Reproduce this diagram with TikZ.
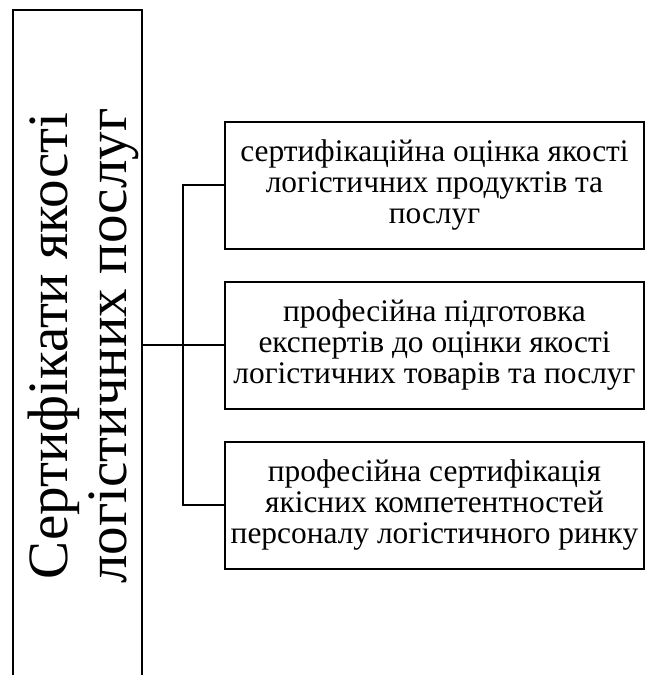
\documentclass[tikz,border=0pt]{standalone}
\usepackage{fontspec}
\setmainfont{Liberation Serif}
\begin{document}
\begin{tikzpicture}[x=1pt,y=-1pt,
  frame/.style={draw=black,line width=2pt},
  rbox/.style={frame,minimum width=419pt,minimum height=127pt,align=center,
    font=\fontsize{31.4}{31}\selectfont,inner sep=0pt},
  link/.style={draw=black,line width=2pt}]
\useasboundingbox (0,0) rectangle (647,675);
\node[frame,minimum width=129pt,minimum height=680pt,inner sep=0pt] (left) at (77.5,350) {};
\node[rotate=90,align=center,font=\fontsize{57}{59}\selectfont,inner sep=0pt] (title) at (83,346)
  {Сертифікати якості\\логістичних послуг};
\node[rbox] (b1) at (434.5,185) {сертифікаційна оцінка якості\\логістичних продуктів та\\послуг};
\node[rbox] (b2) at (434.5,345) {професійна підготовка\\експертів до оцінки якості\\логістичних товарів та послуг};
\node[rbox] (b3) at (434.5,505) {професійна сертифікація\\якісних компетентностей\\персоналу логістичного ринку};
\coordinate (j) at (183,345);
\draw[link] (left.east |- b2.west) -- (b2.west);
\draw[link] (b1.west) -| (j) |- (b3.west);
\end{tikzpicture}
\end{document}
